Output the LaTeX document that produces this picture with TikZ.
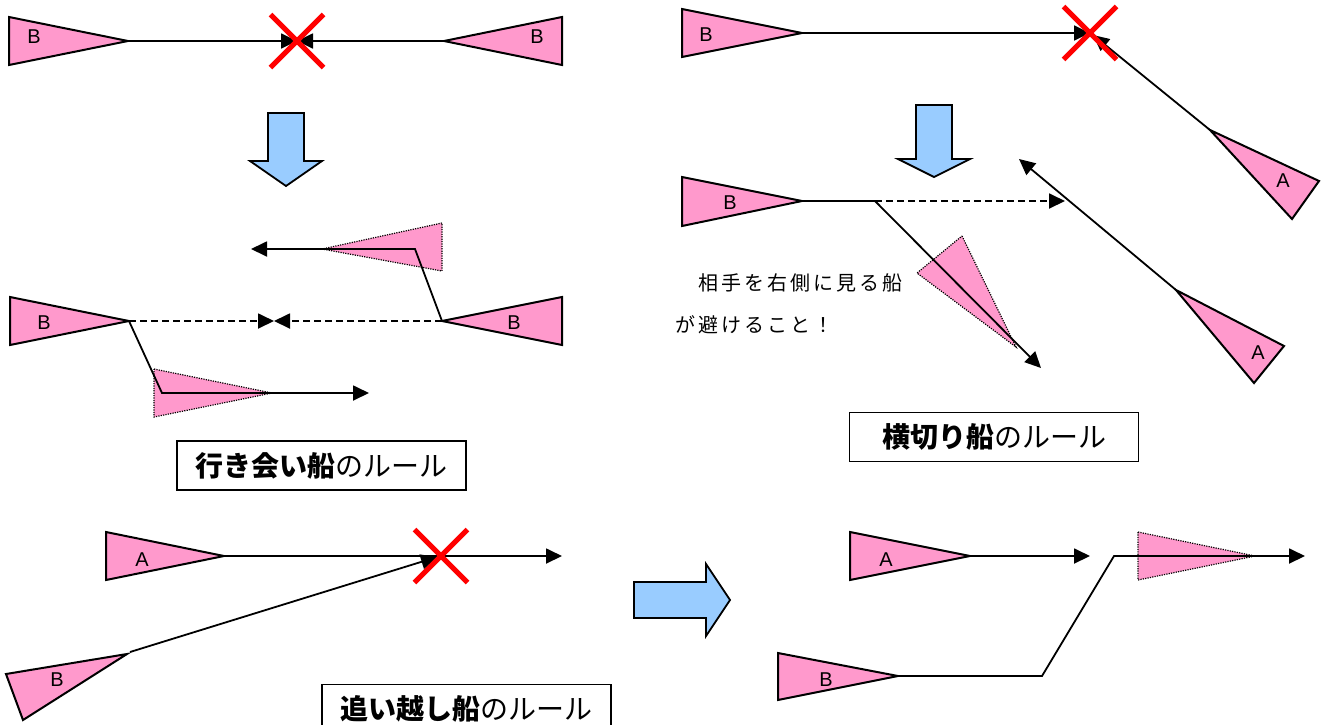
\documentclass[tikz,border=0pt]{standalone}
\usepackage{fontspec}
\setmainfont{Liberation Sans}
\newfontfamily\jp{Noto Sans CJK JP}
\usetikzlibrary{arrows.meta,shapes.misc}
\definecolor{shippink}{HTML}{FF99CC}
\definecolor{arrowblue}{HTML}{99CCFF}
\newcommand\jgap{\hspace{3pt}}
\begin{document}
\begin{tikzpicture}[x=1pt,y=-1pt,
 ship/.style={draw=black, fill=shippink, line width=2pt, line join=miter},
 ghost/.style={draw=black, fill=shippink, line width=1.2pt, dash pattern=on 1.2pt off 1.2pt},
 course/.style={line width=1.8pt},
 arr/.style={course, -{Triangle[length=16pt,width=15pt]}},
 dcourse/.style={line width=1.8pt, dash pattern=on 7pt off 4pt},
 darr/.style={dcourse, -{Triangle[length=16pt,width=15pt]}},
 cross/.style={cross out, draw=red, line width=5pt, minimum width=48pt, minimum height=48pt, inner sep=0pt},
 bigarrow/.style={draw=black, fill=arrowblue, line width=1.8pt},
 lbl/.style={font=\fontsize{20}{22}\selectfont, inner sep=0pt},
 title/.style={draw=black, line width=1.8pt, minimum width=289pt, minimum height=49pt, inner sep=0pt, font=\jp\fontsize{28}{30}\selectfont},
 note/.style={anchor=west, inner sep=0pt, font=\jp\fontsize{20}{22}\selectfont}
]
\clip (0,0) rectangle (1321,724);
\useasboundingbox (0,0) rectangle (1321,724);
\fill[white] (0,0) rectangle (1321,724);

% ===== Head-on, before =====
\coordinate (t1) at (128,41);
\coordinate (t2) at (444,41);
\coordinate (m1) at (297,41);
\draw[ship] (9,17) -- (t1) -- (9,65) -- cycle;
\draw[ship] (562,17) -- (t2) -- (562,65) -- cycle;
\node[lbl] (lb1) at (34,37) {B};
\node[lbl] (lb2) at (537,37) {B};
\draw[arr] (t1) -- (m1);
\draw[arr] (t2) -- (m1);
\node[cross] (x1) at (m1) {};

\draw[bigarrow] (268,113) -- (304,113) -- (304,161) -- (322,161) -- (286,186) -- (250,161) -- (268,161) -- cycle;

% ===== Head-on, after =====
\coordinate (t3) at (129,321);
\coordinate (t4) at (442,321);
\coordinate (m2) at (274,321);
\coordinate (k1) at (415,249);
\coordinate (e1) at (251,249);
\coordinate (k2) at (162,393);
\coordinate (e2) at (369,393);
\draw[ghost] (442,223) -- (322,249) -- (442,271) -- cycle;
\draw[ghost] (154,369) -- (272,393) -- (154,417) -- cycle;
\draw[ship] (10,297) -- (t3) -- (10,345) -- cycle;
\draw[ship] (562,297) -- (t4) -- (562,345) -- cycle;
\node[lbl] (lb3) at (44,323) {B};
\node[lbl] (lb4) at (514,323) {B};
\draw[darr] (t3) -- (m2);
\draw[darr] (t4) -- (m2);
\draw[arr] (t4) -- (k1) -- (e1);
\draw[arr] (t3) -- (k2) -- (e2);

\node[title] (ti1) at (321.5,465.5) {{\bfseries 行き会い船}のルール};

% ===== Crossing, before =====
\coordinate (t5) at (802,33);
\coordinate (m3) at (1090,33);
\coordinate (m3b) at (1093,35);
\coordinate (t6) at (1210,130);
\draw[ship] (682,9) -- (t5) -- (682,57) -- cycle;
\node[lbl] (lb5) at (706,35) {B};
\draw[ship] (t6) -- (1319,181) -- (1292,219) -- cycle;
\node[lbl] (la1) at (1283,181) {A};
\draw[arr] (t5) -- (m3);
\draw[arr] (t6) -- (m3b);
\node[cross] (x2) at (m3) {};

\draw[bigarrow] (916,105) -- (952,105) -- (952,159) -- (970,159) -- (934,177) -- (898,159) -- (916,159) -- cycle;

% ===== Crossing, after =====
\coordinate (t7) at (802,201);
\coordinate (k3) at (875,201);
\coordinate (e3) at (1065,201);
\coordinate (e4) at (1041,368);
\coordinate (t8) at (1176,290);
\coordinate (e5) at (1019,159);
\draw[ghost] (962,236) -- (1016,347) -- (917,273) -- cycle;
\draw[ship] (682,177) -- (t7) -- (682,226) -- cycle;
\node[lbl] (lb6) at (730,203) {B};
\draw[course] (t7) -- (k3);
\draw[darr] (k3) -- (e3);
\draw[arr] (k3) -- (e4);
\draw[ship] (t8) -- (1284,346) -- (1254,383) -- cycle;
\node[lbl] (la2) at (1258,353) {A};
\draw[arr] (t8) -- (e5);

\node[note] (n1) at (698,283) {相\jgap 手\jgap を\jgap 右\jgap 側\jgap に\jgap 見\jgap る\jgap 船};
\node[note] (n2) at (675,325) {が\jgap 避\jgap け\jgap る\jgap こ\jgap と\jgap ！};

\node[title] (ti2) at (994,437) {{\bfseries 横切り船}のルール};

% ===== Overtaking, before =====
\coordinate (t9) at (224,556);
\coordinate (e6) at (562,556);
\coordinate (m4) at (441,556);
\coordinate (m4b) at (437,557);
\coordinate (t10) at (127,654);
\coordinate (s10) at (130,652);
\draw[ship] (106,532) -- (t9) -- (106,580) -- cycle;
\node[lbl] (la3) at (142,560) {A};
\draw[ship] (6,674) -- (t10) -- (23,720) -- cycle;
\node[lbl] (lb7) at (57,680) {B};
\draw[arr] (t9) -- (e6);
\draw[arr] (s10) -- (m4b);
\node[cross] (x3) at (m4) {};

\draw[bigarrow] (634,582) -- (706,582) -- (706,564) -- (730,600) -- (706,636) -- (706,618) -- (634,618) -- cycle;

% ===== Overtaking, after =====
\coordinate (t11) at (970,556);
\coordinate (e7) at (1090,556);
\coordinate (t12) at (898,676);
\coordinate (k4) at (1042,676);
\coordinate (k5) at (1114,556);
\coordinate (e8) at (1305,556);
\draw[ship] (850,532) -- (t11) -- (850,580) -- cycle;
\node[lbl] (la4) at (886,560) {A};
\draw[arr] (t11) -- (e7);
\draw[ghost] (1138,532) -- (1255,556) -- (1138,580) -- cycle;
\draw[ship] (778,653) -- (t12) -- (778,700) -- cycle;
\node[lbl] (lb8) at (826,680) {B};
\draw[arr] (t12) -- (k4) -- (k5) -- (e8);

\node[title] (ti3) at (466.5,709) {{\bfseries 追い越し船}のルール};
\end{tikzpicture}
\end{document}
